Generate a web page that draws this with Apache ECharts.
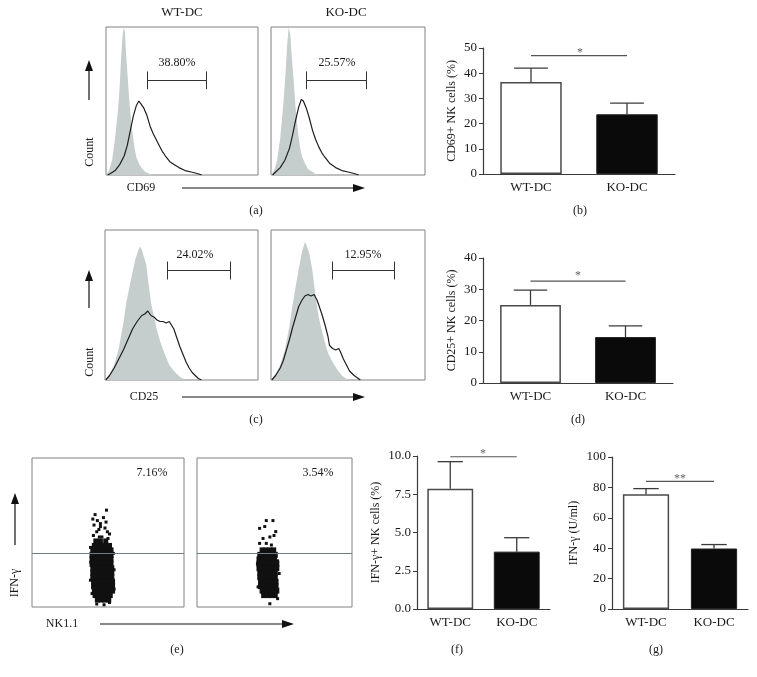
<!DOCTYPE html>
<html>
<head>
<meta charset="utf-8">
<script src="https://cdn.jsdelivr.net/npm/echarts@6/dist/echarts.min.js"></script>
<style>
html,body{margin:0;padding:0;background:#fff;}
#chart{width:757px;height:677px;}
</style>
</head>
<body>
<div id="chart"></div>
<script>
// ---------------- DATA ----------------
const categories = ['WT-DC', 'KO-DC'];

// (b) CD69+ NK cells (%)
const cd69Mean = [36.5, 23.7];
const cd69Sem = [5.5, 4.4];
const cd69Sig = 47;
// (d) CD25+ NK cells (%)
const cd25Mean = [25.0, 14.7];
const cd25Sem = [4.7, 3.6];
const cd25Sig = 32.6;
// (f) IFN-γ+ NK cells (%)
const ifnPctMean = [7.86, 3.75];
const ifnPctSem = [1.77, 0.91];
const ifnPctSig = 9.95;
// (g) IFN-γ (U/ml)
const ifnUMean = [75.5, 39.8];
const ifnUSem = [3.7, 2.6];
const ifnUSig = 84;

// Histograms: [x (% of box width), y (% of box height)]
const cd69WtIso = [[0,0],[2,3],[4,10],[6,25],[8,45],[9,60],[10,80],[11,95],[11.7,100],[12.5,96],[13,85],[14,70],[15,55],[16,42],[17,32],[18,24],[19,17],[20,12],[22,7],[24,4],[26,2],[28,1],[32,0]];
const cd69WtStain = [[1,0],[3,1],[6,3],[9,7],[12,13],[14,20],[16,30],[18,40],[20,47],[21.6,50],[23,48],[25,45],[27,40],[29,33],[31,28],[33,24],[35,20],[37,16],[39,13],[42,9],[45,7],[48,5],[52,3],[56,2],[60,1],[63,0]];
const cd69KoIso = [[0,0],[2,3],[4,10],[6,25],[8,48],[9.5,70],[10.5,88],[11.5,100],[12.5,95],[13.5,80],[15,60],[16,45],[17,34],[18,25],[19,18],[20,13],[22,8],[24,4],[27,2],[30,0]];
const cd69KoStain = [[1,0],[3,2],[6,5],[9,10],[12,18],[14,27],[16,37],[18,46],[19.7,51],[21,50],[23,45],[25,38],[27,30],[29,24],[31,19],[33,15],[35,12],[38,8],[42,5],[46,3],[50,2],[54,1],[57,0]];
const cd25WtIso = [[0,0],[3,4],[6,10],[9,21],[12,38],[14,52],[16,62],[18,72],[20,81],[22,87],[23,89],[24,87],[26,80],[27,77],[28,68],[30,52],[32,42],[34,33],[36,26],[38,20],[40,15],[42,10],[45,6],[49,2],[53,0]];
const cd25WtStain = [[0.5,0],[3,3],[6,8],[9,14],[12,20],[15,27],[18,34],[21,39],[24,43],[26,44],[28,46],[30,43],[32,42],[34,40],[36,39],[38,39],[40,38],[42,39],[43,39],[45,34],[47,28],[49,22],[51,17],[53,12],[55,8],[57,5],[59,3],[61,1],[63,0]];
const cd25KoIso = [[0,0],[3,4],[6,10],[9,20],[12,36],[14,50],[16,62],[18,74],[20,85],[22,92],[23,90],[25,84],[27,72],[29,55],[31,42],[33,33],[35,25],[37,18],[40,12],[43,7],[46,3],[50,0]];
const cd25KoStain = [[0.5,0],[3,3],[6,8],[8,13],[10,20],[12,27],[14,35],[16,42],[18,49],[20,53],[22,56],[24,57],[26,56],[28,57],[30,53],[31,50],[33,44],[35,37],[37,29],[38,23],[40,21],[42,20],[44,21],[45,19],[47,14],[49,10],[51,6],[54,3],[58,0]];

// Gates: [start, end, level] in % of box
const cd69WtGate = [27, 66, 64];
const cd69KoGate = [23, 62, 64];
const cd25WtGate = [41, 82, 73];
const cd25KoGate = [40, 80, 73];

// (e) dot plots, [x %, y %]; dense core rows: [y, [x...]]
const wtCoreRows = [
  [44,[42,45,48.5]],
  [41,[41,43.5,46,49,51]],
  [38,[40,42.5,45,47.5,50,52]],
  [35,[39.5,42,44.5,47,49.5,52]],
  [32,[39.5,42,44.5,47,49.5,52]],
  [29,[39.5,42,44.5,47,49.5,52]],
  [26,[40,42.5,45,47.5,50,52.5]],
  [23,[40,42.5,45,47.5,50,52.5]],
  [20,[40,42.5,45,47.5,50,52.5]],
  [17,[40.5,43,45.5,48,50.5,53]],
  [14,[40.5,43,45.5,48,50.5,53]],
  [11,[41,43.5,46,48.5,51,53]],
  [8,[41.5,44,46.5,49,51.5]],
  [5,[43,45.5,48,50.5]]
];
const wtSparse = [[49,65],[41.5,62],[40,59],[43,58],[48.7,57],[40.8,55],[45,54],[48,53],[49.6,50.5],[42.6,50.5],[40.4,48],[46,47],[50,46],[44.3,47],[38.5,40],[53.5,36],[38.8,30],[54,25],[38.5,18],[54,12],[42.6,2],[47.4,1.5],[51,3],[39.5,9],[45,56],[47,60],[44,52],[51,49]];
const koCoreRows = [
  [38,[42,44.5,47,49.5]],
  [35,[40.5,43,45.5,48,50.5]],
  [32,[40,42.5,45,47.5,50]],
  [29,[40,42.5,45,47.5,50,51.5]],
  [26,[40,42.5,45,47.5,50,51.5]],
  [23,[40.5,43,45.5,48,50.5]],
  [20,[40.5,43,45.5,48,50.5]],
  [17,[41,43.5,46,48.5,51]],
  [14,[41,43.5,46,48.5,51]],
  [11,[42,44.5,47,49.5,51.5]],
  [8,[43,45.5,48,50.5]]
];
const koSparse = [[44.7,58],[49,58],[40.4,52.8],[43.7,54],[50.8,50.6],[47,47],[42.6,46],[40.4,42.7],[49.7,48],[44.7,42.7],[48,41.6],[52,31],[53,22.5],[52,5.6],[47,2.2],[42.6,9],[39.4,13.5],[39,29]];
const ifnGateLevel = 36;

// ---------------- BUILD ----------------
const FONT = 'Liberation Serif';
const chart = echarts.init(document.getElementById('chart'));

const grids = [], xAxes = [], yAxes = [], series = [];
function addGrid(g, xa, ya) {
  grids.push(g);
  const i = grids.length - 1;
  xAxes.push(Object.assign({gridIndex: i}, xa));
  yAxes.push(Object.assign({gridIndex: i}, ya));
  return i;
}
const hiddenVal = {type:'value', min:0, max:100, show:false};
const boxStyle = {show:true, borderColor:'#808080', borderWidth:1, backgroundColor:'transparent'};

function histPanel(pos, iso, stain, gate) {
  const i = addGrid(Object.assign({}, pos, boxStyle), hiddenVal, hiddenVal);
  series.push({type:'line', xAxisIndex:i, yAxisIndex:i, data:iso, showSymbol:false, symbol:'none',
    lineStyle:{width:0}, areaStyle:{color:'#c6cdcd', opacity:1}, silent:true, z:2});
  series.push({type:'line', xAxisIndex:i, yAxisIndex:i, data:stain, showSymbol:false, symbol:'none',
    lineStyle:{width:1.2, color:'#1e1e1e'}, silent:true, z:3,
    markLine:{symbol:'none', silent:true, animation:false, label:{show:false},
      lineStyle:{color:'#333', width:1, type:'solid'},
      data:[
        [{coord:[gate[0],gate[2]]},{coord:[gate[1],gate[2]]}],
        [{coord:[gate[0],gate[2]-6]},{coord:[gate[0],gate[2]+6]}],
        [{coord:[gate[1],gate[2]-6]},{coord:[gate[1],gate[2]+6]}]
      ]}});
}
histPanel({left:106, top:27, width:152, height:148}, cd69WtIso, cd69WtStain, cd69WtGate);
histPanel({left:271, top:27, width:154, height:148}, cd69KoIso, cd69KoStain, cd69KoGate);
histPanel({left:105, top:230, width:153, height:150}, cd25WtIso, cd25WtStain, cd25WtGate);
histPanel({left:271, top:230, width:154, height:150}, cd25KoIso, cd25KoStain, cd25KoGate);

function flatRows(rows){ return rows.flatMap(r => r[1].map(x => [x, r[0]])); }
function dotPanel(pos, rows, sparse) {
  const i = addGrid(Object.assign({}, pos, boxStyle), hiddenVal, hiddenVal);
  series.push({type:'scatter', xAxisIndex:i, yAxisIndex:i, data:flatRows(rows), symbol:'rect', symbolSize:[5,6],
    itemStyle:{color:'#111', opacity:1}, silent:true, z:3,
    markLine:{symbol:'none', silent:true, animation:false, label:{show:false},
      lineStyle:{color:'#6d7c7d', width:1.2, type:'solid'}, data:[{yAxis:ifnGateLevel}]}});
  series.push({type:'scatter', xAxisIndex:i, yAxisIndex:i, data:sparse, symbol:'rect', symbolSize:3,
    itemStyle:{color:'#111', opacity:1}, silent:true, z:3});
}
dotPanel({left:32, top:458, width:152, height:149}, wtCoreRows, wtSparse);
dotPanel({left:197, top:458, width:155, height:149}, koCoreRows, koSparse);

function barPanel(pos, mean, sem, sig, ymax, interval, name, nameGap, barPct, fmt) {
  const axisCol = '#3a3a3a';
  const i = addGrid(Object.assign({}, pos),
    {type:'category', data:categories, boundaryGap:true,
     axisLine:{lineStyle:{color:axisCol, width:1.2}},
     axisTick:{alignWithLabel:true, length:4, lineStyle:{color:axisCol}},
     axisLabel:{fontFamily:FONT, fontSize:13, color:'#1a1a1a', margin:7}},
    {type:'value', min:0, max:ymax, interval:interval,
     name:name, nameLocation:'middle', nameGap:nameGap, nameRotate:90,
     nameTextStyle:{fontFamily:FONT, fontSize:12, color:'#1a1a1a'},
     splitLine:{show:false},
     axisLine:{show:true, lineStyle:{color:axisCol, width:1.2}},
     axisTick:{show:true, length:4, lineStyle:{color:axisCol}},
     axisLabel:{fontFamily:FONT, fontSize:13, color:'#1a1a1a', margin:6, formatter: fmt}});
  series.push({type:'bar', xAxisIndex:i, yAxisIndex:i, barWidth:barPct + '%', silent:true, z:2,
    data: mean.map((v, k) => ({value:v, itemStyle: k === 0
      ? {color:'#ffffff', borderColor:'#4a4a4a', borderWidth:1.5}
      : {color:'#0a0a0a', borderColor:'#222', borderWidth:1}}))});
  series.push({type:'custom', xAxisIndex:i, yAxisIndex:i, silent:true, z:4,
    encode:{x:0, y:[1,2]},
    data: mean.map((v, k) => [k, v, v + sem[k]]),
    renderItem: function(params, api) {
      const base = api.coord([api.value(0), api.value(1)]);
      const top = api.coord([api.value(0), api.value(2)]);
      const band = api.size([1, 0])[0];
      const cap = band * barPct / 100 * 0.55;
      const st = {stroke:'#3a3a3a', lineWidth:1.3};
      return {type:'group', children:[
        {type:'line', shape:{x1:base[0], y1:base[1], x2:top[0], y2:top[1]}, style:st},
        {type:'line', shape:{x1:top[0]-cap/2, y1:top[1], x2:top[0]+cap/2, y2:top[1]}, style:st}
      ]};
    }});
  series.push({type:'line', xAxisIndex:i, yAxisIndex:i, data:[sig, sig], symbol:'none', showSymbol:false,
    lineStyle:{color:'#555', width:1.2}, silent:true, z:3});
}
barPanel({left:483, top:48, width:192, height:126}, cd69Mean, cd69Sem, cd69Sig, 50, 10, 'CD69+ NK cells (%)', 25, 64);
barPanel({left:483, top:258, width:190, height:125}, cd25Mean, cd25Sem, cd25Sig, 40, 10, 'CD25+ NK cells (%)', 25, 64);
barPanel({left:417, top:456, width:133, height:153}, ifnPctMean, ifnPctSem, ifnPctSig, 10, 2.5, 'IFN-γ+ NK cells (%)', 35, 69, v => v.toFixed(1));
barPanel({left:612, top:457, width:136, height:152}, ifnUMean, ifnUSem, ifnUSig, 100, 20, 'IFN-γ (U/ml)', 32, 68);

// ---------------- ANNOTATIONS ----------------
const texts = [
  ['WT-DC',182,13,13],['KO-DC',346,13,13],
  ['38.80%',177,63,12],['25.57%',337,63,12],
  ['CD69',141,188,12],['(a)',256,211,12],['(b)',580,211,12],
  ['24.02%',195,255,12],['12.95%',363,255,12],
  ['CD25',144,397,12],['(c)',256,420,12],['(d)',578,420,12],
  ['7.16%',152,473,12],['3.54%',318,473,12],
  ['NK1.1',62,624,12],['(e)',177,650,12],['(f)',457,650,12],['(g)',656,650,12]
];
const stars = [['*',580,53],['*',578,276],['*',483,454],['**',680,479]];
const rotTexts = [['Count',90,152],['Count',90,362],['IFN-γ',15,583]];
const graphic = [];
texts.forEach(t => graphic.push({type:'text', x:t[1], y:t[2], silent:true,
  style:{text:t[0], font:t[3]+'px "'+FONT+'"', fill:'#1a1a1a', textAlign:'center', textVerticalAlign:'middle', align:'center', verticalAlign:'middle'}}));
stars.forEach(t => graphic.push({type:'text', x:t[1], y:t[2], silent:true,
  style:{text:t[0], font:'12px "'+FONT+'"', fill:'#666', textAlign:'center', textVerticalAlign:'middle', align:'center', verticalAlign:'middle'}}));
rotTexts.forEach(t => graphic.push({type:'text', x:t[1], y:t[2], rotation:Math.PI/2, silent:true,
  style:{text:t[0], font:'12px "'+FONT+'"', fill:'#1a1a1a', textAlign:'center', textVerticalAlign:'middle', align:'center', verticalAlign:'middle'}}));
function vArrow(x, y0, tip) {
  graphic.push({type:'line', silent:true, shape:{x1:x, y1:y0, x2:x, y2:tip+8}, style:{stroke:'#111', lineWidth:1.2}});
  graphic.push({type:'polygon', silent:true, shape:{points:[[x-4,tip+11],[x,tip],[x+4,tip+11]]}, style:{fill:'#111'}});
}
function hArrow(y, x0, tip) {
  graphic.push({type:'line', silent:true, shape:{x1:x0, y1:y, x2:tip-8, y2:y}, style:{stroke:'#111', lineWidth:1.2}});
  graphic.push({type:'polygon', silent:true, shape:{points:[[tip-12,y-4],[tip,y],[tip-12,y+4]]}, style:{fill:'#111'}});
}
vArrow(89, 100, 60); vArrow(89, 308, 270); vArrow(15, 545, 493);
hArrow(188, 182, 365); hArrow(397, 182, 365); hArrow(624, 100, 294);

chart.setOption({
  animation:false,
  backgroundColor:'#ffffff',
  grid:grids, xAxis:xAxes, yAxis:yAxes, series:series, graphic:graphic
});
</script>
</body>
</html>
